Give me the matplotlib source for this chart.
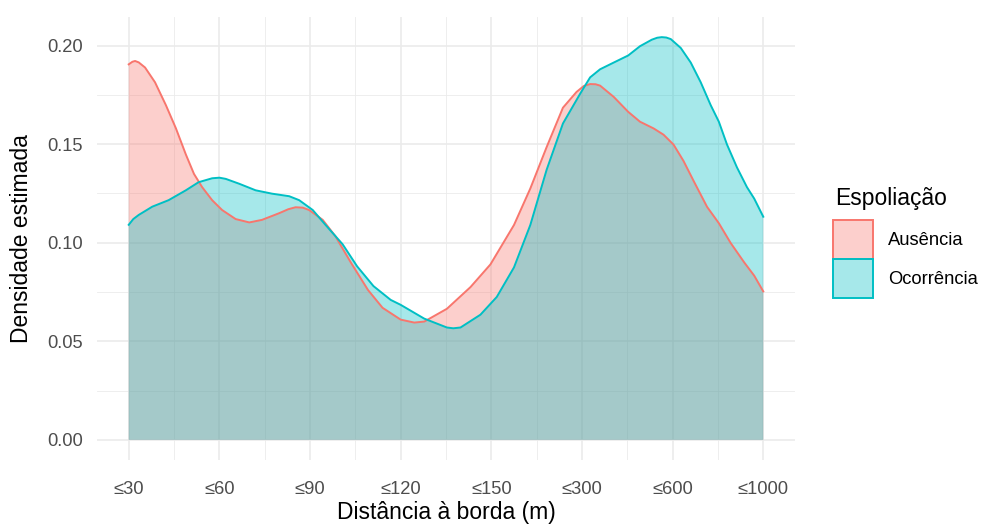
import matplotlib
matplotlib.use('Agg')
import matplotlib.pyplot as plt
from matplotlib.patches import Patch

plt.rcParams['font.family'] = ['Liberation Sans', 'DejaVu Sans']

# categorias do eixo x (posicoes 1..8)
tick_labels = ['≤30', '≤60', '≤90', '≤120', '≤150', '≤300', '≤600', '≤1000']
y_ticks = [0.00, 0.05, 0.10, 0.15, 0.20]

# densidade estimada - Ausência
aus_x = [1.00, 1.04, 1.07, 1.11, 1.18, 1.29, 1.41, 1.52, 1.63, 1.72, 1.81, 1.92, 2.03, 2.18,
         2.33, 2.47, 2.66, 2.76, 2.84, 2.92, 2.99, 3.14, 3.28, 3.45, 3.64, 3.80, 4.00, 4.15,
         4.26, 4.51, 4.77, 4.99, 5.25, 5.43, 5.61, 5.79, 5.94, 6.02, 6.09, 6.15, 6.20, 6.35,
         6.51, 6.64, 6.79, 6.90, 7.01, 7.12, 7.23, 7.38, 7.51, 7.64, 7.79, 7.90, 8.00]
aus_y = [0.1905, 0.1918, 0.1922, 0.1915, 0.1889, 0.1814, 0.1698, 0.1581, 0.1448, 0.1349,
         0.1282, 0.1216, 0.1166, 0.1120, 0.1103, 0.1116, 0.1150, 0.1170, 0.1180, 0.1178,
         0.1166, 0.1116, 0.1033, 0.0900, 0.0760, 0.0670, 0.0610, 0.0595, 0.0600, 0.0665,
         0.0775, 0.0890, 0.1090, 0.1275, 0.1485, 0.1685, 0.1765, 0.1795, 0.1805, 0.1804,
         0.1797, 0.1740, 0.1664, 0.1614, 0.1580, 0.1548, 0.1498, 0.1415, 0.1315, 0.1182,
         0.1099, 0.0999, 0.0900, 0.0833, 0.0753]

# densidade estimada - Ocorrência
oco_x = [1.00, 1.05, 1.11, 1.26, 1.44, 1.63, 1.77, 1.92, 2.00, 2.07, 2.22, 2.40, 2.58, 2.77,
         2.88, 3.03, 3.17, 3.36, 3.52, 3.70, 3.89, 4.00, 4.26, 4.51, 4.58, 4.66, 4.88, 5.06,
         5.25, 5.43, 5.61, 5.79, 5.98, 6.09, 6.20, 6.35, 6.51, 6.64, 6.77, 6.83, 6.88, 6.93,
         6.98, 7.09, 7.20, 7.31, 7.42, 7.51, 7.60, 7.71, 7.82, 7.90, 8.00]
oco_y = [0.1091, 0.1120, 0.1141, 0.1183, 0.1216, 0.1266, 0.1307, 0.1327, 0.1330, 0.1324,
         0.1299, 0.1266, 0.1249, 0.1236, 0.1216, 0.1166, 0.1091, 0.0992, 0.0880, 0.0780,
         0.0710, 0.0685, 0.0615, 0.0570, 0.0566, 0.0570, 0.0635, 0.0725, 0.0875, 0.1090,
         0.1370, 0.1605, 0.1756, 0.1839, 0.1880, 0.1914, 0.1950, 0.1997, 0.2030, 0.2040,
         0.2043, 0.2041, 0.2033, 0.1988, 0.1914, 0.1814, 0.1698, 0.1614, 0.1498, 0.1382,
         0.1282, 0.1224, 0.1132]

groups = ['Ausência', 'Ocorrência']
colors = ['#F8766D', '#00BFC4']
alpha = 0.35

W, H = 993, 529
fig = plt.figure(figsize=(W / 100, H / 100), dpi=100)
ax = fig.add_axes([97 / W, (H - 460) / H, (795 - 97) / W, (460 - 17) / H])

series = [(aus_x, aus_y), (oco_x, oco_y)]
for (xs, ys), c in zip(series, colors):
    ax.fill_between(xs, 0, ys, facecolor=c, alpha=alpha, lw=0)
    ax.plot(xs, ys, color=c, lw=1.4, solid_joinstyle='round')

ymax = max(max(aus_y), max(oco_y))
ax.set_xlim(1 - 0.35, 8 + 0.35)
ax.set_ylim(-0.05 * ymax, 1.05 * ymax)

ax.set_xticks(range(1, 9))
ax.set_xticklabels(tick_labels)
ax.set_xticks([i + 0.5 for i in range(1, 8)], minor=True)
ax.set_yticks(y_ticks)
ax.set_yticklabels(['%.2f' % v for v in y_ticks])
ax.set_yticks([0.025, 0.075, 0.125, 0.175], minor=True)

ax.grid(which='major', color='#EBEBEB', lw=1.2)
ax.grid(which='minor', color='#EBEBEB', lw=0.6)
ax.set_axisbelow(True)
for s in ax.spines.values():
    s.set_visible(False)
ax.tick_params(which='both', length=0)
ax.tick_params(axis='x', pad=15, labelsize=13.2, labelcolor='#4D4D4D')
ax.tick_params(axis='y', pad=10, labelsize=13.2, labelcolor='#4D4D4D')

ax.set_xlabel('Distância à borda (m)', fontsize=16.5, va='center')
ax.xaxis.set_label_coords(0.5, -(513 - 460) / 443)
ax.set_ylabel('Densidade estimada', fontsize=16.5, va='center')
ax.yaxis.set_label_coords(-(97 - 22) / 698, 0.5)

# legenda: titulo como texto, chaves com o tamanho do original
fig.text(835 / W, 1 - 198 / H, 'Espoliação', fontsize=16.5, ha='left', va='center')
handles = [Patch(facecolor=matplotlib.colors.to_rgba(c, alpha), edgecolor=c, lw=1.4)
           for c in colors]
leg = ax.legend(handles, groups, loc='upper left',
                bbox_to_anchor=(833 / W, 1 - 220 / H), bbox_transform=fig.transFigure,
                frameon=False, fontsize=13.2,
                handlelength=2.18, handleheight=2.9, handletextpad=0.8,
                labelspacing=0, borderpad=0, borderaxespad=0)

fig.savefig('out.png', dpi=100)
